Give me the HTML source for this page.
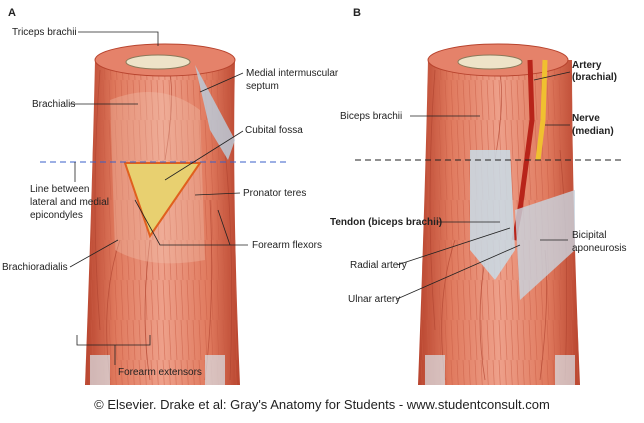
<!DOCTYPE html>
<html><head><meta charset="utf-8"><style>
body{margin:0;background:#fff;}
svg{display:block;font-family:"Liberation Sans",sans-serif;}
text{font-size:10px;fill:#222;}
.b{font-weight:bold;}
</style></head><body>
<svg width="644" height="423" viewBox="0 0 644 423">
<defs>
<linearGradient id="arm" x1="0" x2="1" y1="0" y2="0">
<stop offset="0" stop-color="#b8442e"/><stop offset="0.2" stop-color="#e07a5e"/>
<stop offset="0.5" stop-color="#eea08a"/><stop offset="0.8" stop-color="#e07a5e"/>
<stop offset="1" stop-color="#b8442e"/></linearGradient>
<pattern id="str" width="6" height="40" patternUnits="userSpaceOnUse">
<line x1="1" y1="0" x2="3" y2="40" stroke="#c85a42" stroke-width="0.7" opacity="0.6"/></pattern>
</defs>
<text x="8" y="16" class="b" style="font-size:11px">A</text>
<text x="353" y="16" class="b" style="font-size:11px">B</text>

<!-- Arm A -->
<path d="M95,60 Q92,200 85,385 L240,385 Q232,200 235,60 Z" fill="url(#arm)"/>
<path d="M95,60 Q92,200 85,385 L240,385 Q232,200 235,60 Z" fill="url(#str)"/>
<g fill="none" stroke="#b04430" stroke-width="0.8" opacity="0.7">
<path d="M100,70 Q90,200 100,330"/><path d="M120,240 Q100,300 110,380"/>
<path d="M150,240 Q140,320 150,380"/><path d="M210,200 Q215,300 205,380"/>
<path d="M225,150 Q235,250 230,380"/><path d="M170,75 Q175,100 165,160"/>
</g>
<ellipse cx="165" cy="60" rx="70" ry="16" fill="#e5826a" stroke="#b8442e"/>
<ellipse cx="158" cy="62" rx="32" ry="7" fill="#eee3c8" stroke="#8a7a5a"/>
<path d="M195,65 L235,140 L228,160 L210,130 Z" fill="#b9cfe0" opacity="0.8"/>
<path d="M110,100 Q160,80 200,110 L205,260 Q150,270 115,250 Z" fill="#f2c2b0" opacity="0.35"/>
<path d="M125,163 L200,163 L150,236 Z" fill="#e8d070" stroke="#e0601e" stroke-width="2"/>
<rect x="90" y="355" width="20" height="30" fill="#d9e3ea" opacity="0.7"/>
<rect x="205" y="355" width="20" height="30" fill="#d9e3ea" opacity="0.7"/>

<!-- Arm B -->
<path d="M428,60 Q425,200 418,385 L580,385 Q572,200 572,60 Z" fill="url(#arm)"/>
<path d="M428,60 Q425,200 418,385 L580,385 Q572,200 572,60 Z" fill="url(#str)"/>
<g fill="none" stroke="#b04430" stroke-width="0.8" opacity="0.7">
<path d="M435,70 Q425,200 435,330"/><path d="M455,240 Q435,300 445,380"/>
<path d="M485,260 Q475,320 485,380"/><path d="M545,250 Q550,300 540,380"/>
<path d="M560,150 Q570,250 565,380"/><path d="M500,75 Q505,100 495,160"/>
</g>
<ellipse cx="498" cy="60" rx="70" ry="16" fill="#e5826a" stroke="#b8442e"/>
<ellipse cx="490" cy="62" rx="32" ry="7" fill="#eee3c8" stroke="#8a7a5a"/>
<path d="M530,60 L532,120 L520,210 L514,240" stroke="#b8241a" stroke-width="5" fill="none"/>
<path d="M545,60 L543,120 L538,160" stroke="#f0c030" stroke-width="5" fill="none"/>
<path d="M470,150 L510,150 L515,250 L495,280 L470,250 Z" fill="#c8dce8" opacity="0.85"/>
<path d="M515,210 L575,190 L575,250 L520,300 Z" fill="#c8d4e0" opacity="0.8"/>
<rect x="425" y="355" width="20" height="30" fill="#d9e3ea" opacity="0.7"/>
<rect x="555" y="355" width="20" height="30" fill="#d9e3ea" opacity="0.7"/>

<!-- dashed lines -->
<line x1="40" y1="162" x2="290" y2="162" stroke="#3a5fc8" stroke-dasharray="6,4"/>
<line x1="355" y1="160" x2="622" y2="160" stroke="#222" stroke-dasharray="6,4"/>

<g stroke="#222" stroke-width="0.8" fill="none">
<polyline points="78,32 158,32 158,46"/>
<line x1="243" y1="73" x2="200" y2="92"/>
<line x1="70" y1="104" x2="138" y2="104"/>
<line x1="243" y1="131" x2="165" y2="180"/>
<line x1="75" y1="182" x2="75" y2="162"/>
<line x1="240" y1="193" x2="195" y2="195"/>
<polyline points="248,245 160,245 135,200"/>
<line x1="230" y1="245" x2="218" y2="210"/>
<line x1="70" y1="267" x2="118" y2="240"/>
<polyline points="77,335 77,345 150,345 150,335"/>
<line x1="115" y1="345" x2="115" y2="365"/>
<line x1="570" y1="72" x2="534" y2="80"/>
<line x1="570" y1="125" x2="545" y2="125"/>
<line x1="410" y1="116" x2="480" y2="116"/>
<line x1="438" y1="222" x2="500" y2="222"/>
<line x1="568" y1="240" x2="540" y2="240"/>
<line x1="397" y1="265" x2="510" y2="228"/>
<line x1="397" y1="299" x2="520" y2="245"/>
</g>

<text x="12" y="35">Triceps brachii</text>
<text x="246" y="76">Medial intermuscular</text>
<text x="246" y="89">septum</text>
<text x="32" y="107">Brachialis</text>
<text x="245" y="133">Cubital fossa</text>
<text x="30" y="192">Line between</text>
<text x="30" y="205">lateral and medial</text>
<text x="30" y="218">epicondyles</text>
<text x="243" y="196">Pronator teres</text>
<text x="252" y="248">Forearm flexors</text>
<text x="2" y="270">Brachioradialis</text>
<text x="118" y="375">Forearm extensors</text>

<text x="572" y="68" class="b">Artery</text>
<text x="572" y="80" class="b">(brachial)</text>
<text x="572" y="121" class="b">Nerve</text>
<text x="572" y="134" class="b">(median)</text>
<text x="340" y="119">Biceps brachii</text>
<text x="330" y="225" class="b">Tendon (biceps brachii)</text>
<text x="572" y="238">Bicipital</text>
<text x="572" y="251">aponeurosis</text>
<text x="350" y="268">Radial artery</text>
<text x="348" y="302">Ulnar artery</text>

<text x="322" y="409" text-anchor="middle" style="font-size:13px">© Elsevier. Drake et al: Gray's Anatomy for Students - www.studentconsult.com</text>
</svg>
</body></html>
